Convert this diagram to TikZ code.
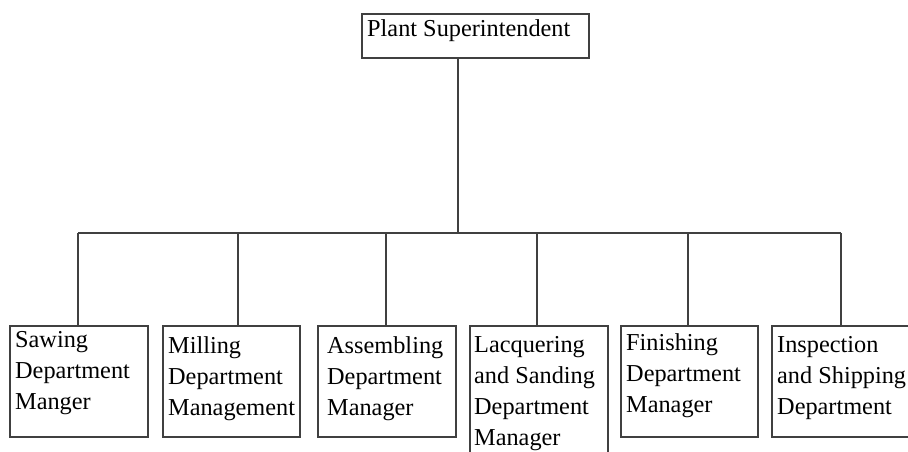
\documentclass[tikz,border=0pt]{standalone}
\usepackage{fontspec}
\setmainfont{Liberation Serif}
\begin{document}
\begin{tikzpicture}[x=1pt,y=-1pt,
  box/.style={draw=black!75, line width=1.6pt, anchor=north west, inner sep=0pt, minimum width=138pt, minimum height=111pt},
  lbl/.style={anchor=base west, inner sep=0pt, font=\fontsize{24.3}{31}\selectfont},
  conn/.style={draw=black!75, line width=1.6pt}]
\useasboundingbox (0,0) rectangle (908,452);
\clip (0,0) rectangle (908,452);
% top box
\node[box, minimum width=227pt, minimum height=44pt] (top) at (361,13) {};
\node[lbl] (ttop) at (367,37) {Plant Superintendent};
% bottom boxes
\node[box] (b1) at (9,325) {};
\node[box, minimum width=137pt] (b2) at (162,325) {};
\node[box] (b3) at (317,325) {};
\node[box, minimum height=160pt] (b4) at (469,325) {};
\node[box, minimum width=137pt] (b5) at (620,325) {};
\node[box, minimum width=140pt] (b6) at (771,325) {};
% texts
\node[lbl] (t1) at (15,347) {\parbox[t]{135pt}{Sawing\\Department\\Manger}};
\node[lbl] (t2) at (168,353) {\parbox[t]{135pt}{Milling\\Department\\Management}};
\node[lbl] (t3) at (327,353) {\parbox[t]{135pt}{Assembling\\Department\\Manager}};
\node[lbl] (t4) at (474,352) {\parbox[t]{135pt}{Lacquering\\and Sanding\\Department\\Manager}};
\node[lbl] (t5) at (626,350) {\parbox[t]{135pt}{Finishing\\Department\\Manager}};
\node[lbl] (t6) at (777,352) {\parbox[t]{135pt}{Inspection\\and Shipping\\Department}};
% connectors
\coordinate (jt) at (458,233);
\coordinate (j1) at (78,233);
\coordinate (j2) at (238,233);
\coordinate (j3) at (386,233);
\coordinate (j4) at (537,233);
\coordinate (j5) at (688,233);
\coordinate (j6) at (841,233);
\draw[conn] (top.south -| jt) -- (jt);
\draw[conn] (j1) -- (j6);
\draw[conn] (j1) -- (j1 |- b1.north);
\draw[conn] (j2) -- (j2 |- b2.north);
\draw[conn] (j3) -- (j3 |- b3.north);
\draw[conn] (j4) -- (j4 |- b4.north);
\draw[conn] (j5) -- (j5 |- b5.north);
\draw[conn] (j6) -- (j6 |- b6.north);
\end{tikzpicture}
\end{document}
